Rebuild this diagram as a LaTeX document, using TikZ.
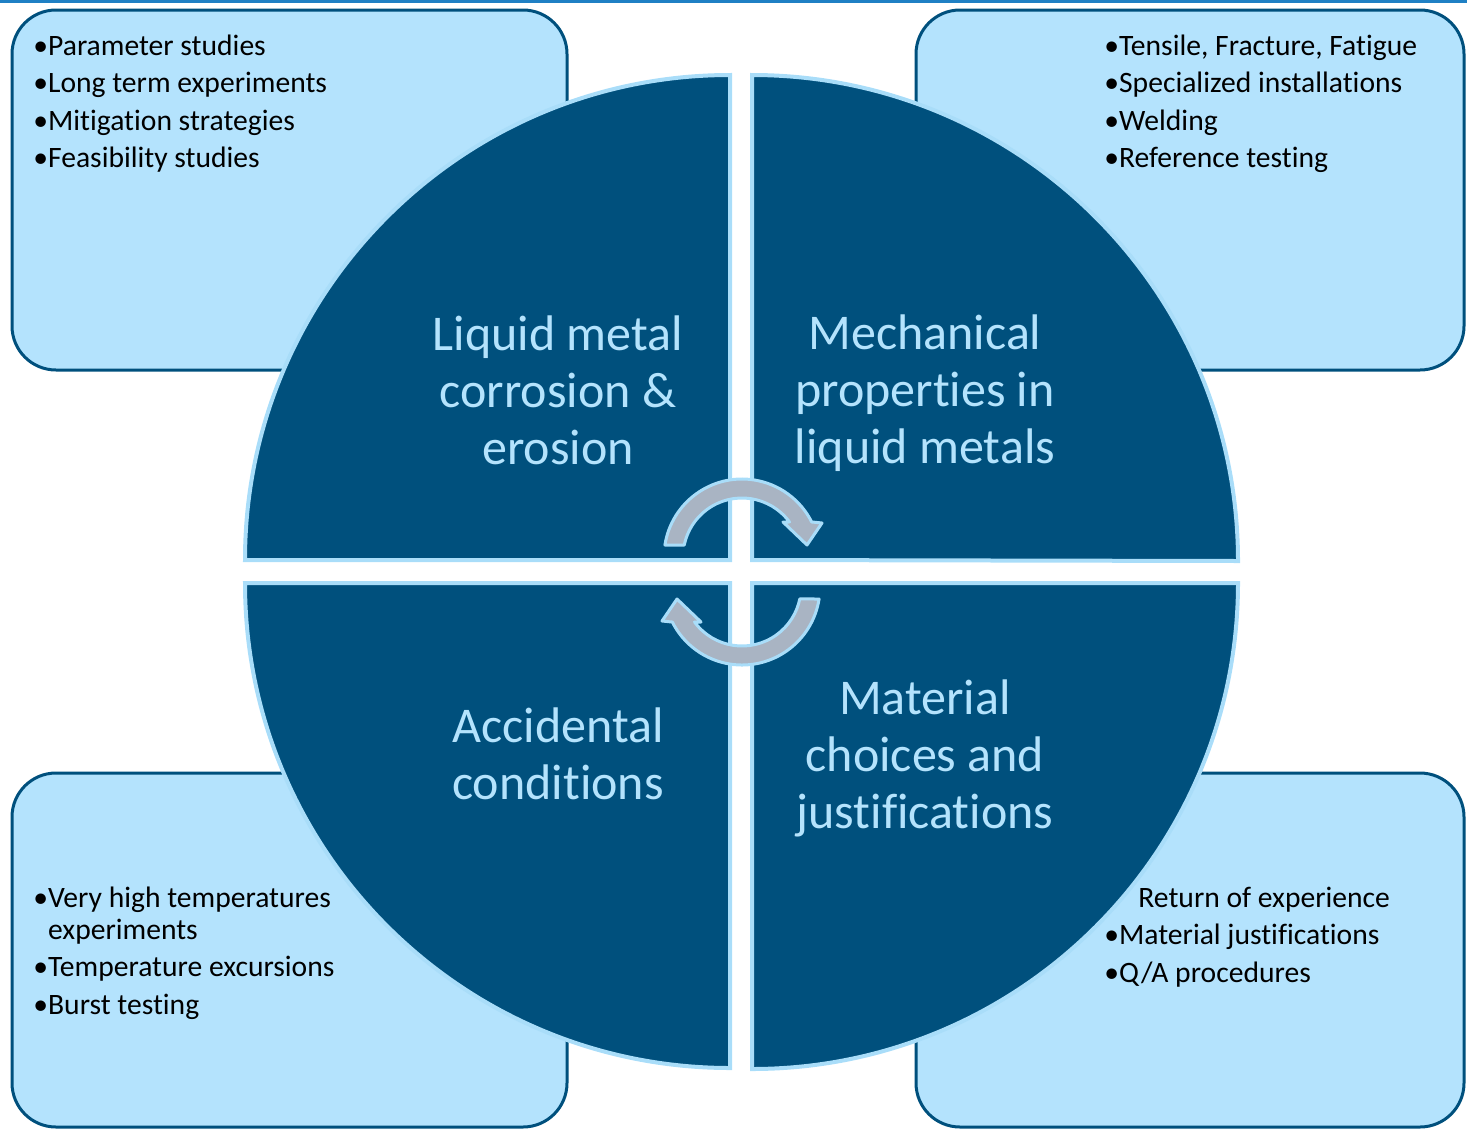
\documentclass[tikz,border=0pt]{standalone}
\usepackage{fontspec}
\setmainfont[Ligatures=NoCommon]{Carlito}

\definecolor{deepblue}{HTML}{00507D}
\definecolor{paleblue}{HTML}{B4E3FD}
\definecolor{rimblue}{HTML}{A9DDF9}
\definecolor{arrowgrey}{HTML}{A9B4C3}
\definecolor{topblue}{HTML}{1F80C4}

\tikzset{
  infobox/.style={draw=deepblue, fill=paleblue, line width=1.5pt, rounded corners=22pt},
  quarter/.style={draw=rimblue, fill=deepblue, line width=2pt},
  cyclearrow/.style={draw=rimblue, fill=arrowgrey, line width=1.5pt, line join=round},
  itemtext/.style={anchor=base west, inner sep=0pt, font=\fontsize{14.8}{17}\selectfont},
  topictext/.style={align=center, text=paleblue, inner sep=0pt, font=\fontsize{25}{28.5}\selectfont},
}

\begin{document}
\begin{tikzpicture}[x=0.5pt, y=-0.5pt]%% units are pixels, y runs down
    \useasboundingbox (0,0) rectangle (1467,1130);

    % rule along the top
    \draw[topblue, line width=1.5pt] (0,1.5) to (1467,1.5);

    % the four corner boxes
    \draw[infobox] (12,10) rectangle (567,370);
    \draw[infobox] (916,10) rectangle (1464,370);
    \draw[infobox] (12,773) rectangle (567,1127);
    \draw[infobox] (916,773) rectangle (1464,1127);

    % the split disc
    \draw[quarter] (730,560) -- (245,560) arc[start angle=180, end angle=270, radius=485] -- cycle;
    \draw[quarter] (752,560) -- (752,75) arc[start angle=270, end angle=360, radius=486] -- cycle;
    \draw[quarter] (752,583) -- (1238,583) arc[start angle=0, end angle=90, radius=486] -- cycle;
    \draw[quarter] (730,583) -- (730,1068) arc[start angle=90, end angle=180, radius=485] -- cycle;

    % turning arrows in the middle
    \draw[cyclearrow] ([shift={(188.85:78)}]742,557) arc[start angle=188.85, end angle=333.3, radius=78]
        -- (822,523) -- (807,545) -- (783,522)
        -- ([shift={(323.6:59)}]742,557) arc[start angle=323.6, end angle=191.7, radius=59] -- cycle;
    \draw[cyclearrow] ([shift={(8.85:78)}]742,587) arc[start angle=8.85, end angle=153.3, radius=78]
        -- (662,621) -- (677,599) -- (701,622)
        -- ([shift={(143.6:59)}]742,587) arc[start angle=143.6, end angle=11.7, radius=59] -- cycle;

    % topic names
    \node[topictext] (corrosion) at (558,390) {Liquid metal\\corrosion \&\\erosion};
    \node[topictext] (mechanical) at (925,393) {Mechanical\\properties in\\liquid metals};
    \node[topictext] (accidental) at (558,754) {Accidental\\conditions};
    \node[topictext] (choices) at (925,758) {Material\\choices and\\justifications};

    % top left list
    \node[itemtext] (parameter) at (33,55) {•Parameter studies};
    \node[itemtext] (longterm) at (33,92.5) {•Long term experiments};
    \node[itemtext] (mitigation) at (33,130) {•Mitigation strategies};
    \node[itemtext] (feasibility) at (33,167.5) {•Feasibility studies};

    % top right list
    \node[itemtext] (tensile) at (1104,55) {•Tensile, Fracture, Fatigue};
    \node[itemtext] (installations) at (1104,92.5) {•Specialized installations};
    \node[itemtext] (welding) at (1104,130) {•Welding};
    \node[itemtext] (reference) at (1104,167.5) {•Reference testing};

    % bottom left list
    \node[itemtext] (hightemp) at (33,907.5) {•Very high temperatures};
    \node[itemtext] (hightempb) at (33,939.5) {\hphantom{•}experiments};
    \node[itemtext] (excursions) at (33,976.5) {•Temperature excursions};
    \node[itemtext] (burst) at (33,1014.5) {•Burst testing};

    % bottom right list
    \node[itemtext] (experience) at (1138,907.5) {Return of experience};
    \node[itemtext] (justifications) at (1104,944.5) {•Material justifications};
    \node[itemtext] (qaproc) at (1104,982.5) {•Q/A procedures};
\end{tikzpicture}
\end{document}
